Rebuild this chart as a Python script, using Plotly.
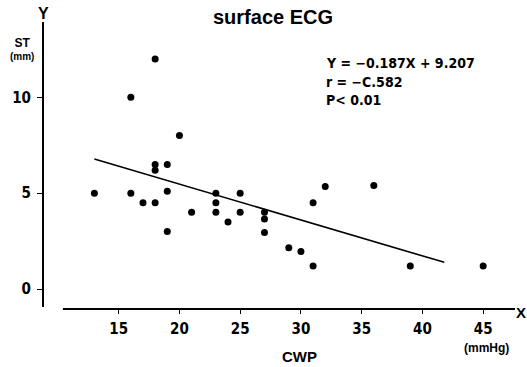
import plotly.graph_objects as go

# Data
cwp = [13, 16, 16, 17, 18, 18, 18, 18, 19, 19, 19, 20, 21, 23, 23, 23, 24, 25, 25,
       27, 27, 27, 29, 30, 31, 31, 32, 36, 39, 45]
st = [5.0, 10.0, 5.0, 4.5, 12.0, 6.5, 6.2, 4.5, 6.5, 5.1, 3.0, 8.0, 4.0, 5.0, 4.5,
      4.0, 3.5, 5.0, 4.0, 4.0, 3.65, 2.95, 2.15, 1.95, 4.5, 1.2, 5.35, 5.4, 1.2, 1.2]

slope = -0.187
intercept = 9.207
fit_x = [13, 41.8]
fit_y = [slope * v + intercept for v in fit_x]

x_ticks = [15, 20, 25, 30, 35, 40, 45]
y_ticks = [0, 5, 10]

title_text = "surface ECG"
eq_lines = ["Y = −0.187X + 9.207", "r = −C.582", "P< 0.01"]

NARROW = "DejaVu Sans Condensed, Liberation Sans Narrow, sans-serif"
SANS = "Liberation Sans, Arial, sans-serif"

fig = go.Figure()
fig.add_trace(go.Scatter(x=fit_x, y=fit_y, mode="lines",
                         line=dict(color="black", width=1.6), hoverinfo="skip"))
fig.add_trace(go.Scatter(x=cwp, y=st, mode="markers",
                         marker=dict(color="black", size=7)))

L, R, T, B = 41, 515, 20, 309
W, H = 527, 367
pw, ph = R - L, B - T

fig.update_layout(
    width=W, height=H,
    margin=dict(l=L, r=W - R, t=T, b=H - B, pad=0),
    paper_bgcolor="white", plot_bgcolor="white",
    showlegend=False,
    xaxis=dict(range=[8.77, 47.62], showgrid=False, zeroline=False, showline=False,
               tickvals=x_ticks, ticks="outside", ticklen=4, tickwidth=1.2,
               tickcolor="black",
               tickfont=dict(family=NARROW, size=15, color="black", weight="bold"),
               ticklabelstandoff=2),
    yaxis=dict(range=[-1.043, 14.03], showgrid=False, zeroline=False, showline=False,
               tickvals=y_ticks, ticks="outside", ticklen=5, tickwidth=1.2,
               tickcolor="black",
               tickfont=dict(family=NARROW, size=15, color="black", weight="bold"),
               ticklabelstandoff=3),
)

# axis lines
fig.add_shape(type="line", xref="paper", yref="paper",
              x0=0, x1=0, y0=(B - 307) / ph, y1=(B - 22) / ph,
              line=dict(color="black", width=2))
fig.add_shape(type="line", xref="paper", yref="paper",
              x0=(61 - L) / pw, x1=1, y0=0, y1=0,
              line=dict(color="black", width=2.2))


def px_ann(text, x, y, size, family=SANS, bold=True, xanchor="center"):
    t = f"<b>{text}</b>" if bold else text
    fig.add_annotation(text=t, xref="paper", yref="paper",
                       x=(x - L) / pw, y=(B - y) / ph,
                       xanchor=xanchor, yanchor="middle", showarrow=False,
                       font=dict(family=family, size=size, color="black"))


px_ann(title_text, 272, 17, 20)
for i, line in enumerate(eq_lines):
    px_ann(line, 323, [63, 82, 100][i], 14, family=NARROW, xanchor="left")
px_ann("Y", 42, 14, 16)
px_ann("X", 521, 312, 15)
px_ann("<span style='font-size:12px'>ST</span><br>"
       "<span style='font-size:10px'>(mm)</span>", 20, 49, 10)
px_ann("(mmHg)", 486, 348, 12)
px_ann("CWP", 299, 356, 15)

fig.write_html("out.html", config={"displayModeBar": False},
               post_script="document.body.style.margin='0';")
